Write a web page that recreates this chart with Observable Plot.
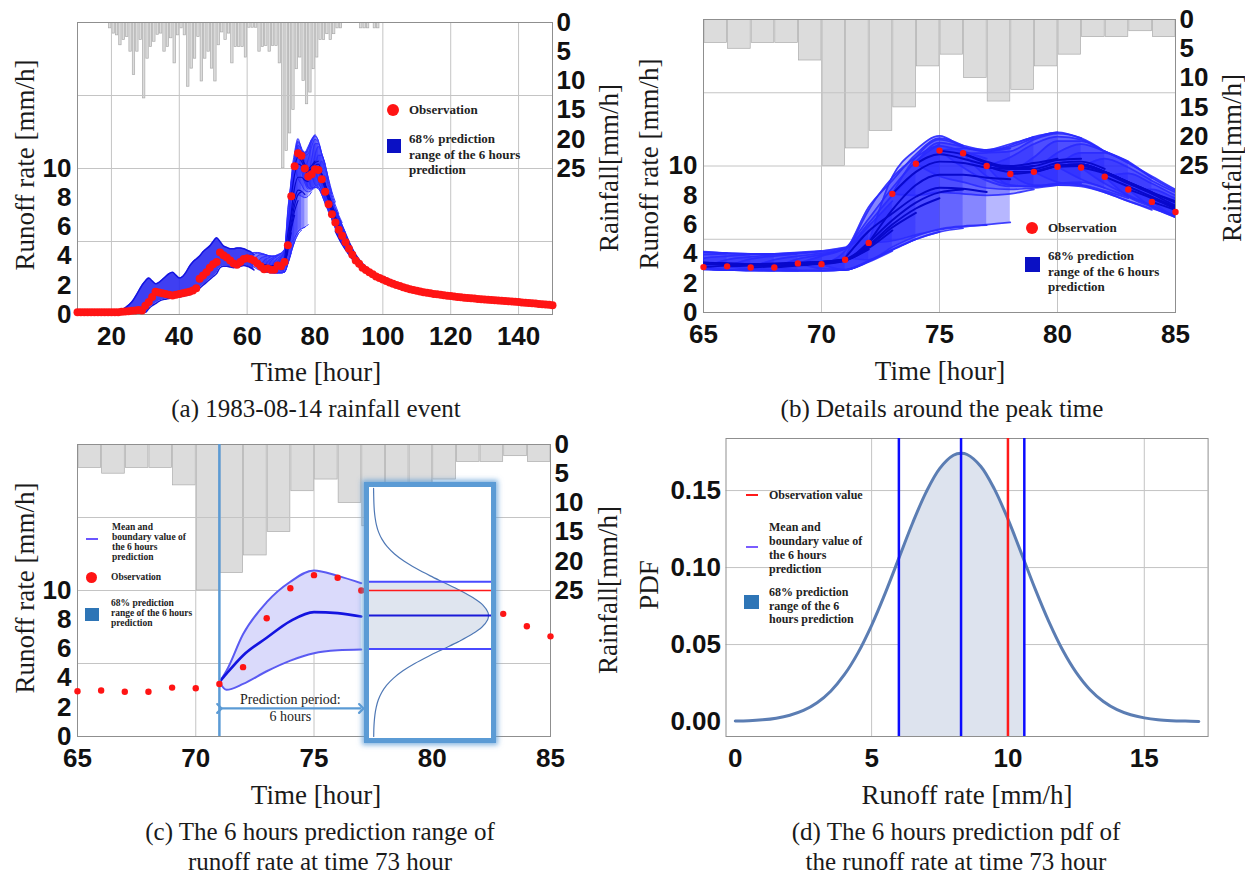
<!DOCTYPE html>
<html><head><meta charset="utf-8">
<script src="https://cdn.jsdelivr.net/npm/d3@7"></script>
<script src="https://cdn.jsdelivr.net/npm/@observablehq/plot@0.6"></script>
<style>
body{margin:0;background:#fff;}
#fig{position:relative;width:1245px;height:876px;overflow:hidden;background:#fff;}
.lbl{position:absolute;white-space:nowrap;font-family:"Liberation Serif","Times New Roman",serif;color:#1a1a1a;line-height:1;}
.box{position:absolute;box-sizing:border-box;border:5px solid #5b9bd5;background:#fff;overflow:hidden;box-shadow:0 0 5px 2px rgba(91,155,213,0.75);}
</style>
</head><body><div id="fig"></div>
<script>
// ---------------- DATA ----------------
// rainfall (hourly bars, mm/h), hour index = start of bar
const rainHours = d3.range(19, 99);
const rainValues = [1.0,1.9,2.2,3.9,3.0,2.5,5.0,9.0,5.0,3.0,13.0,6.2,4.2,3.3,2.1,1.9,5.0,4.2,2.7,7.0,
  2.2,1.0,2.2,11.0,7.9,6.2,2.5,10.1,6.2,5.0,7.9,10.1,3.9,1.7,3.0,1.9,7.0,4.2,4.2,4.2,
  6.0,0.9,0.9,0.9,5.0,4.2,4,5,4,4,7,25,22,19,15,8,6,10,14,12,
  8,6,3,3,2,3,2,1,1,0,0,0,0,0,1,1,1,0,1,1];
// observed runoff (mm/h), hourly from 10 to 150
const obsHours = d3.range(10, 151);
const obsValues = [0.15,0.15,0.15,0.15,0.15,0.15,0.15,0.15,0.15,0.15,
  0.15,0.15,0.16,0.18,0.2,0.22,0.25,0.28,0.3,0.28,
  0.6,0.85,1.2,1.55,1.5,1.45,1.4,1.35,1.3,1.35,
  1.4,1.45,1.5,1.55,1.65,1.8,2.45,2.67,2.9,3.2,
  3.45,3.6,4.25,4.05,3.9,3.7,3.5,3.4,3.6,3.8,
  3.85,3.8,3.7,3.5,3.3,3.1,3.15,3.07,3.07,3.35,
  3.3,3.6,4.75,8.1,10.15,11.05,10.87,10.0,9.45,9.6,
  9.95,9.9,9.27,8.4,7.55,6.86,6.3,5.8,5.4,4.95,
  4.5,4.1,3.7,3.47,3.2,3.05,2.9,2.75,2.6,2.5,
  2.4,2.3,2.2,2.1,2.02,1.95,1.87,1.8,1.73,1.67,
  1.62,1.57,1.53,1.49,1.45,1.41,1.38,1.35,1.32,1.29,
  1.26,1.23,1.2,1.18,1.15,1.13,1.11,1.09,1.07,1.05,
  1.03,1.01,0.99,0.97,0.96,0.94,0.92,0.91,0.89,0.87,
  0.85,0.83,0.81,0.79,0.77,0.75,0.72,0.7,0.68,0.66,0.64];

// 6-hour forecasts: start hour, then 7 values (start .. start+6)
const fcStart = [60,61,62,63,64,65,66,67,68,69,70,71,72,73,74,75,76,77,78,79,80,81,82,83,84];
const fcMean = [
 [3.85,3.75,3.65,3.55,3.45,3.4,3.35],[3.8,3.7,3.6,3.5,3.4,3.35,3.3],[3.7,3.6,3.5,3.4,3.35,3.3,3.3],
 [3.5,3.4,3.35,3.3,3.3,3.3,3.3],[3.3,3.3,3.3,3.3,3.35,3.4,3.45],[3.1,3.2,3.25,3.3,3.35,3.45,3.6],
 [3.15,3.2,3.25,3.35,3.45,3.6,4.3],[3.07,3.15,3.25,3.4,3.55,4.4,5.6],[3.07,3.2,3.35,3.55,4.5,5.8,6.8],
 [3.35,3.45,3.65,4.6,6.0,7.1,7.8],[3.3,3.55,4.8,6.3,7.5,8.2,8.4],[3.72,5.55,6.76,7.9,8.52,8.45,8.22],
 [4.75,7.0,8.7,9.4,9.4,9.2,9.1],[8.1,9.6,10.3,10.2,9.9,9.8,10.0],[10.15,10.8,10.5,10.1,10.0,10.2,10.5],
 [11.05,10.8,10.3,9.9,10.0,10.4,10.5],[10.87,10.2,9.8,9.8,10.2,10.3,9.8],[10.0,9.6,9.6,10.0,10.1,9.6,8.9],
 [9.45,9.6,10.0,10.1,9.6,8.9,8.2],[9.6,10.0,10.1,9.6,8.9,8.2,7.6],[9.95,10.0,9.6,8.9,8.2,7.5,6.9],
 [9.9,9.5,8.8,8.1,7.3,6.7,6.2],[9.27,8.6,7.9,7.2,6.6,6.1,5.6],[8.4,7.8,7.1,6.5,6.0,5.5,5.0],
 [7.55,7.0,6.4,5.9,5.4,4.9,4.5]];
const fcHi = [
 [3.85,4.15,4.25,4.25,4.2,4.1,4.05],[3.8,4.1,4.2,4.2,4.15,4.05,4.0],[3.7,4.0,4.1,4.1,4.05,4.0,4.0],
 [3.5,3.85,3.95,4.0,4.0,4.0,4.05],[3.3,3.7,3.85,3.95,4.0,4.1,4.2],[3.1,3.6,3.8,3.95,4.05,4.2,4.45],
 [3.15,3.65,3.85,4.0,4.15,4.4,5.6],[3.07,3.6,3.85,4.05,4.35,5.9,7.6],[3.07,3.65,3.95,4.35,6.1,8.0,9.6],
 [3.35,3.85,4.4,6.4,8.5,10.3,11.5],[3.3,4.2,7.2,9.0,10.8,11.9,11.4],[3.72,7.0,9.2,10.6,11.37,11.0,10.5],
 [4.75,9.27,11.1,12.05,11.3,11.0,11.2],[8.1,10.6,11.8,11.4,11.1,11.5,12.0],[10.15,11.6,11.3,11.0,11.4,12.0,12.3],
 [11.05,11.2,11.1,11.3,11.9,12.3,11.9],[10.87,10.9,11.0,11.8,12.2,11.9,11.0],[10.0,10.6,11.5,12.0,11.8,11.0,10.3],
 [9.45,10.6,11.7,11.7,11.0,10.2,9.2],[9.6,10.9,11.5,11.0,10.3,9.2,8.3],[9.95,10.9,10.9,10.2,9.3,8.4,7.7],
 [9.9,10.5,9.9,9.0,8.2,7.5,6.9],[9.27,9.5,8.8,8.0,7.3,6.8,6.3],[8.4,8.4,7.8,7.2,6.6,6.1,5.6],
 [7.55,7.6,7.0,6.5,6.0,5.5,5.0]];
const fcLo = [
 [3.85,3.45,3.25,3.1,3.0,2.95,2.9],[3.8,3.4,3.2,3.05,2.95,2.9,2.9],[3.7,3.3,3.1,3.0,2.9,2.9,2.85],
 [3.5,3.15,3.0,2.9,2.85,2.85,2.85],[3.3,3.0,2.9,2.85,2.85,2.85,2.9],[3.1,2.95,2.9,2.85,2.85,2.85,2.9],
 [3.15,2.95,2.9,2.85,2.85,2.9,3.5],[3.07,2.9,2.85,2.85,2.9,3.45,4.2],[3.07,2.9,2.85,2.9,3.5,4.3,5.0],
 [3.35,3.0,2.95,3.5,4.3,5.0,5.5],[3.3,2.9,3.55,4.25,5.0,5.5,5.75],[3.72,3.6,4.47,5.2,5.7,5.9,5.96],
 [4.75,4.9,5.3,5.65,5.85,6.0,6.15],[8.1,8.0,8.2,8.1,8.0,8.1,8.4],[10.15,9.3,8.9,8.5,8.4,8.5,8.7],
 [11.05,9.9,9.0,8.6,8.6,8.8,8.8],[10.87,9.3,8.7,8.6,8.8,8.9,8.5],[10.0,8.7,8.6,8.7,8.7,8.3,7.8],
 [9.45,8.7,8.7,8.6,8.2,7.6,7.0],[9.6,8.9,8.7,8.2,7.6,7.1,6.6],[9.95,9.1,8.5,7.9,7.3,6.6,6.1],
 [9.9,8.8,8.0,7.3,6.6,6.0,5.5],[9.27,7.9,7.2,6.5,6.0,5.5,5.0],[8.4,7.2,6.5,5.9,5.4,4.9,4.5],
 [7.55,6.5,5.9,5.4,4.9,4.5,4.1]];

// outer envelope of the forecasts in panel (a), outside the detailed window
const envA1T = [22,24,26,28,29,30,31,32,33,34,35,36,37,38,39,40,41,42,43,44,45,46,47,48,49,50,51,52,53,54,55,56,57,58,59,60,61,62];
const envA1Hi = [0.16,0.45,0.85,1.6,2.0,2.3,2.5,2.3,2.1,2.2,2.4,2.6,2.8,2.9,2.7,2.5,2.6,2.9,3.3,3.6,3.8,4.0,4.3,4.5,4.7,5.0,5.25,5.0,4.7,4.6,4.5,4.5,4.55,4.55,4.5,4.4,4.3,4.1];
const envA1Lo = [0.14,0.12,0.12,0.14,0.12,0.15,0.4,0.6,0.75,0.9,1.0,1.05,1.1,1.15,1.2,1.2,1.25,1.3,1.35,1.45,1.6,1.8,2.0,2.2,2.4,2.6,2.8,3.2,3.3,3.3,3.25,3.2,3.25,3.3,3.35,3.3,3.2,3.05];
const envA2T = [86,88,90,92,94,96,98,100,104,108,112,116,120,125,130,135,140,145,150];
const envA2Hi = [7.2,6.1,5.0,4.1,3.5,3.1,2.8,2.6,2.2,1.9,1.68,1.5,1.36,1.22,1.12,1.03,0.95,0.85,0.74];
const envA2Lo = [5.7,4.8,4.1,3.5,3.05,2.75,2.45,2.25,1.9,1.62,1.43,1.28,1.16,1.04,0.94,0.86,0.78,0.68,0.58];

// panel (c): the single 6-hour forecast
const predStart = 71, horizonHours = 6;
const cT = [71,71.3,72,73,74,75,76,77];
const cMean = [3.72,4.3,5.55,6.76,7.9,8.52,8.45,8.22];
const cHi = [3.72,4.5,7.0,9.2,10.6,11.37,11.0,10.5];
const cLo = [3.72,3.2,3.6,4.47,5.2,5.7,5.9,5.96];
const arrowLevel = 1.92;
const periodText = ["Prediction period:", "6 hours"];

// panel (d): predictive pdf
const pdfX = [0,0.5,1,1.5,2,2.5,3,3.5,4,4.5,5,5.5,6,6.5,7,7.5,8,8.28,8.5,9,9.5,10,10.5,10.6,11,11.5,12,12.5,13,13.5,14,14.5,15,15.5,16,16.5,17];
const pdfY = [0.0003,0.0005,0.0011,0.0022,0.0041,0.0072,0.0122,0.0197,0.0304,0.0446,0.0625,0.0834,0.1061,0.1288,0.149,0.1644,0.1729,0.1742,0.1734,0.1658,0.1511,0.1314,0.1089,0.1043,0.086,0.0649,0.0466,0.0319,0.0208,0.013,0.0077,0.0044,0.0024,0.0012,0.0006,0.0003,0.0001];
const predMean = 8.28, predLo = 6.0, predHi = 10.6, obsAtTime = 10.0;

// tick sets and scale domains
const runoffTicks = [0,2,4,6,8,10];
const rainTicks = [0,5,10,15,20,25];
const gridRunoff = [5,10,15];
const pdfDomainX = [-0.34, 17.34], pdfDomainY = [-0.0097, 0.1838];
const insetDomainX = [-0.00606, 0.17879];

// ---------------- TABLES ----------------
const rainRows = rainHours.map((t,i)=>({t, r: rainValues[i]}));
const obsRows = obsHours.map((t,i)=>({t, v: obsValues[i]}));
const fcRows = [];
fcStart.forEach((s,i)=>{ for(let k=0;k<7;k++) fcRows.push({s, t:s+k, mean:fcMean[i][k], hi:fcHi[i][k], lo:fcLo[i][k]}); });
const env1 = envA1T.map((t,i)=>({t, hi:envA1Hi[i], lo:envA1Lo[i]}));
const env2 = envA2T.map((t,i)=>({t, hi:envA2Hi[i], lo:envA2Lo[i]}));
const cRows = cT.map((t,i)=>({t, mean:cMean[i], hi:cHi[i], lo:cLo[i]}));
const pdfRows = pdfX.map((v,i)=>({v, p: pdfY[i]}));
const pdfIn = pdfRows.filter(d=>d.v>=predLo && d.v<=predHi);

// ---------------- HELPERS ----------------
const fig = document.getElementById("fig");
const svgStyle = {background:"transparent", overflow:"visible", maxWidth:"none", fontFamily:"Liberation Sans, Arial, sans-serif"};
const tickFont = {fontSize:26, fontWeight:"bold", fontFamily:"Liberation Sans, Arial, sans-serif", fill:"#111"};
function place(el, left, top, parent){ const d=document.createElement("div"); d.style.cssText=`position:absolute;left:${left}px;top:${top}px;`; d.appendChild(el); (parent||fig).appendChild(d); return d; }
function label(text, x, y, size, rot){ const d=document.createElement("div"); d.className="lbl"; d.textContent=text; d.style.left=x+"px"; d.style.top=y+"px"; d.style.fontSize=size+"px"; d.style.transform = rot ? "translate(-50%,-50%) rotate(-90deg)" : "translate(-50%,-50%)"; fig.appendChild(d); }
function legendText(lines, left, firstCenter, lh, size){ const d=document.createElement("div"); d.style.cssText=`position:absolute;left:${left}px;top:${firstCenter-lh/2}px;font:bold ${size}px/${lh}px "Liberation Serif","Times New Roman",serif;color:#222;white-space:nowrap;`; d.innerHTML=lines.join("<br>"); fig.appendChild(d); }
function swatch(cx, cy, w, h, color, round){ const d=document.createElement("div"); d.style.cssText=`position:absolute;left:${cx-w/2}px;top:${cy-h/2}px;width:${w}px;height:${h}px;background:${color};border-radius:${round?"50%":"0"};`; fig.appendChild(d); }

function rainLayer(rows, xdom, dims){
  return Plot.plot({...dims, style:svgStyle,
    x:{domain:xdom, axis:null},
    y:{domain:[0,50], reverse:true},
    marks:[
      Plot.rectY(rows, {x:"t", y:"r", interval:1, fill:"#dcdcdc", stroke:"#ababab", strokeWidth:0.7, clip:true}),
      Plot.axisY({anchor:"right", ticks:rainTicks, tickSize:0, tickPadding:4, label:null, ...tickFont})
    ]});
}
function baseMarks(xGrid){
  return [
    Plot.gridX(xGrid, {stroke:"#c4c4c4", strokeOpacity:1, strokeWidth:1}),
    Plot.gridY(gridRunoff, {stroke:"#c4c4c4", strokeOpacity:1, strokeWidth:1}),
    Plot.frame({stroke:"#8f8f8f", strokeWidth:1})
  ];
}
function axesMarks(xTicks){
  return [
    Plot.axisY({ticks:runoffTicks, tickSize:0, tickPadding:6, label:null, ...tickFont}),
    Plot.axisX({ticks:xTicks, tickSize:0, tickPadding:12, label:null, ...tickFont})
  ];
}
function forecastMarks(sw){
  return [
    Plot.areaY(fcRows, {x:"t", y1:"lo", y2:"hi", z:"s", fill:"#1f1fff", fillOpacity:0.32, curve:"monotone-x", clip:true}),
    Plot.line(fcRows, {x:"t", y:"hi", z:"s", stroke:"#2a2aff", strokeOpacity:0.9, strokeWidth:sw, curve:"monotone-x", clip:true}),
    Plot.line(fcRows, {x:"t", y:"lo", z:"s", stroke:"#2a2aff", strokeOpacity:0.9, strokeWidth:sw, curve:"monotone-x", clip:true}),
    Plot.line(fcRows, {x:"t", y:"mean", z:"s", stroke:"#0808cc", strokeWidth:sw*1.15, curve:"monotone-x", clip:true})
  ];
}

// ---------------- PANEL (a) ----------------
const dimsA = {width:600, height:350, marginLeft:77, marginRight:48, marginTop:22, marginBottom:36};
place(rainLayer(rainRows, [10,150], dimsA), 0, 0);
place(Plot.plot({...dimsA, style:svgStyle, x:{domain:[10,150]}, y:{domain:[0,20]},
  marks:[
    ...baseMarks([20,40,60,80,100,120,140]),
    Plot.areaY(env1, {x:"t", y1:"lo", y2:"hi", fill:"#2424f0", fillOpacity:0.88, curve:"monotone-x"}),
    Plot.areaY(env2, {x:"t", y1:"lo", y2:"hi", fill:"#2424f0", fillOpacity:0.88, curve:"monotone-x"}),
    Plot.line(env1, {x:"t", y:"hi", stroke:"#1414e0", strokeWidth:1.5, curve:"monotone-x"}),
    Plot.line(env1, {x:"t", y:"lo", stroke:"#1414e0", strokeWidth:1.5, curve:"monotone-x"}),
    Plot.line(env2, {x:"t", y:"hi", stroke:"#1414e0", strokeWidth:1.5, curve:"monotone-x"}),
    Plot.line(env2, {x:"t", y:"lo", stroke:"#1414e0", strokeWidth:1.5, curve:"monotone-x"}),
    ...forecastMarks(1),
    Plot.dot(obsRows, {x:"t", y:"v", r:4, fill:"#ff1414"}),
    ...axesMarks([20,40,60,80,100,120,140])
  ]}), 0, 0);

// ---------------- PANEL (b) ----------------
const dimsB = {width:625, height:350, marginLeft:83, marginRight:70, marginTop:19, marginBottom:38};
const win = d => d.t >= 65 && d.t <= 85;
place(rainLayer(rainRows.filter(d=>d.t>=65 && d.t<85), [65,85], dimsB), 620, 0);
place(Plot.plot({...dimsB, style:svgStyle, x:{domain:[65,85]}, y:{domain:[0,20]},
  marks:[
    ...baseMarks([70,75,80]),
    ...forecastMarks(1.7),
    Plot.dot(obsRows.filter(win), {x:"t", y:"v", r:3.2, fill:"#ff1414"}),
    ...axesMarks([65,70,75,80,85])
  ]}), 620, 0);

// ---------------- PANEL (c) ----------------
const dimsC = {width:600, height:380, marginLeft:77, marginRight:50, marginTop:44, marginBottom:44};
place(rainLayer(rainRows.filter(d=>d.t>=65 && d.t<85), [65,85], dimsC), 0, 400);
const predEnd = predStart + horizonHours;
place(Plot.plot({...dimsC, style:svgStyle, x:{domain:[65,85]}, y:{domain:[0,20]},
  marks:[
    ...baseMarks([70,75,80]),
    Plot.areaY(cRows, {x:"t", y1:"lo", y2:"hi", fill:"#dadafb", curve:"monotone-x"}),
    Plot.line(cRows, {x:"t", y:"hi", stroke:"#5a5af2", strokeWidth:2, curve:"monotone-x"}),
    Plot.line(cRows, {x:"t", y:"lo", stroke:"#5a5af2", strokeWidth:2, curve:"monotone-x"}),
    Plot.line(cRows, {x:"t", y:"mean", stroke:"#1414e0", strokeWidth:2.6, curve:"monotone-x"}),
    Plot.ruleX([predStart], {stroke:"#5b9bd5", strokeWidth:2.5}),
    Plot.link([{a:predStart, b:predEnd, y:arrowLevel}], {x1:"a", x2:"b", y1:"y", y2:"y", stroke:"#5b9bd5", strokeWidth:2.2, markerStart:"arrow", markerEnd:"arrow"}),
    Plot.text([{x:(predStart+predEnd)/2, y:arrowLevel, s:periodText[0]}], {x:"x", y:"y", text:"s", dy:-9, fontFamily:"Liberation Serif, serif", fontSize:14, fill:"#222"}),
    Plot.text([{x:(predStart+predEnd)/2, y:arrowLevel, s:periodText[1]}], {x:"x", y:"y", text:"s", dy:8, fontFamily:"Liberation Serif, serif", fontSize:14, fill:"#222"}),
    Plot.dot(obsRows.filter(win), {x:"t", y:"v", r:3.2, fill:"#ff1414"}),
    ...axesMarks([65,70,75,80,85])
  ]}), 0, 400);
// inset box with the rotated pdf
const box = document.createElement("div"); box.className="box";
box.style.left="364px"; box.style.top="482px"; box.style.width="132px"; box.style.height="261px";
fig.appendChild(box);
place(Plot.plot({width:122, height:292, marginLeft:0, marginRight:0, marginTop:0, marginBottom:0,
  style:svgStyle, x:{domain:insetDomainX, axis:null}, y:{domain:[0,20], axis:null},
  marks:[
    Plot.areaX(pdfIn, {y:"v", x1:()=>insetDomainX[0], x2:"p", fill:"#dfe5ef", curve:"catmull-rom"}),
    Plot.line(pdfRows, {y:"v", x:"p", stroke:"#4f78b5", strokeWidth:1.2, curve:"catmull-rom"}),
    Plot.ruleY([predLo, predHi], {stroke:"#4a4aff", strokeWidth:2}),
    Plot.ruleY([predMean], {stroke:"#1a1ad8", strokeWidth:2}),
    Plot.ruleY([obsAtTime], {stroke:"#ff1a1a", strokeWidth:1.6})
  ]}), 0, -43, box);

// ---------------- PANEL (d) ----------------
place(Plot.plot({width:645, height:350, marginLeft:125.5, marginRight:37.4, marginTop:8, marginBottom:44,
  style:svgStyle, x:{domain:pdfDomainX}, y:{domain:pdfDomainY},
  marks:[
    Plot.gridX([5,10,15], {stroke:"#c4c4c4", strokeOpacity:1}),
    Plot.gridY([0.05,0.10,0.15], {stroke:"#c4c4c4", strokeOpacity:1}),
    Plot.frame({stroke:"#8f8f8f"}),
    Plot.areaY(pdfIn, {x:"v", y1:()=>pdfDomainY[0], y2:"p", fill:"#dde3ee", curve:"catmull-rom"}),
    Plot.line(pdfRows, {x:"v", y:"p", stroke:"#5b7db3", strokeWidth:3, curve:"catmull-rom"}),
    Plot.ruleX([predLo, predMean, predHi], {stroke:"#0b0bff", strokeWidth:2.5}),
    Plot.ruleX([obsAtTime], {stroke:"#ff1a1a", strokeWidth:2.5}),
    Plot.axisY({ticks:[0,0.05,0.10,0.15], tickFormat:d3.format(".2f"), tickSize:0, tickPadding:5, label:null, ...tickFont}),
    Plot.axisX({ticks:[0,5,10,15], tickSize:0, tickPadding:12, label:null, ...tickFont})
  ]}), 600, 430);

// ---------------- TEXT ----------------
label("Runoff rate [mm/h]", 25, 165, 27, true);
label("Time [hour]", 316, 372, 27);
label("Rainfall[mm/h]", 609, 168, 27, true);
label("(a) 1983-08-14 rainfall event", 316, 408, 25);

label("Runoff rate [mm/h]", 649, 164, 27, true);
label("Time [hour]", 940, 371, 27);
label("Rainfall[mm/h]", 1232, 158, 27, true);
label("(b) Details around the peak time", 942, 408, 25);

label("Runoff rate [mm/h]", 25, 588, 27, true);
label("Time [hour]", 316, 795, 27);
label("Rainfall[mm/h]", 608, 590, 27, true);
label("(c) The 6 hours prediction range of", 320, 831, 25);
label("runoff rate at time 73 hour", 320, 861, 25);

label("PDF", 649, 585, 27, true);
label("Runoff rate [mm/h]", 967, 795, 27);
label("(d) The 6 hours prediction pdf of", 956, 831, 25);
label("the runoff rate at time 73 hour", 956, 861, 25);

// ---------------- LEGENDS ----------------
const legObs = ["Observation"];
const legRange = ["68% prediction", "range of the 6 hours", "prediction"];
swatch(393, 110, 12, 12, "#ff1414", true); legendText(legObs, 409, 110, 15.5, 13);
swatch(394, 146, 14, 14, "#0a10c4"); legendText(legRange, 409, 139, 15.5, 13);

swatch(1032, 228, 12, 12, "#ff1414", true); legendText(legObs, 1048, 228, 15.5, 13);
swatch(1032, 264, 15, 15, "#0a10c4"); legendText(legRange, 1048, 256, 15.5, 13);

const legMean = ["Mean and", "boundary value of", "the 6 hours", "prediction"];
swatch(92, 539, 12, 2.5, "#6a55ff"); legendText(legMean, 112, 527, 10, 9.5);
swatch(91, 577, 11, 11, "#ff1414", true); legendText(legObs, 111, 577, 10, 9.5);
swatch(92, 614, 14, 13, "#2e75b6"); legendText(legRange, 111, 603, 10, 9.5);

swatch(752, 495, 12, 2.5, "#ff1a1a"); legendText(["Observation value"], 769, 495, 14, 12);
swatch(752, 547, 12, 2.5, "#7a5cff"); legendText(legMean, 769, 527, 14, 12);
swatch(751, 602, 15, 14, "#2e75b6"); legendText(["68% prediction", "range of the 6", "hours prediction"], 769, 593, 13.5, 12);
</script>
</body></html>
